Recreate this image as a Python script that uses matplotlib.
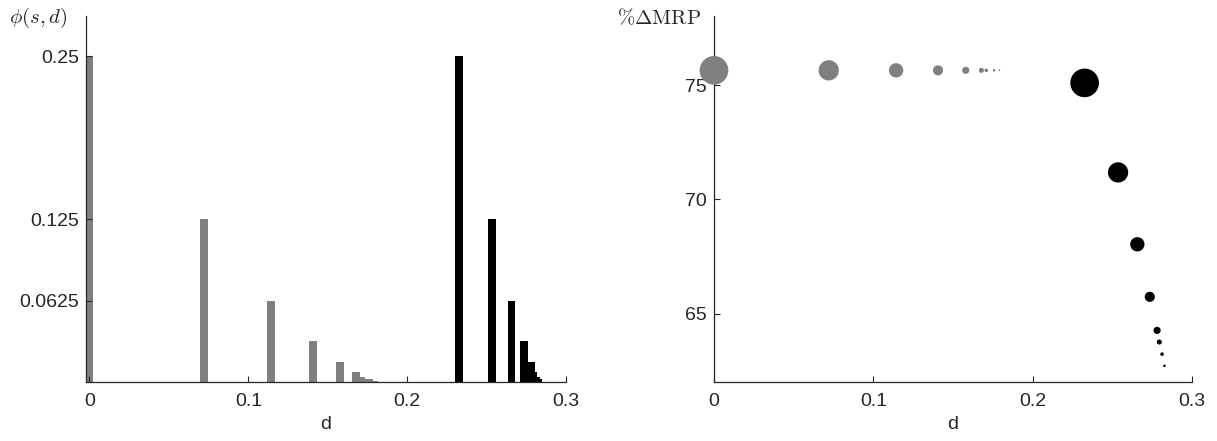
"""
Two-panel figure: distribution phi(s, d) over d (bars) and %dMRP vs d (scatter,
marker area proportional to phi). Grey = first strategy, black = second.
"""

import matplotlib
matplotlib.use("Agg")
import matplotlib.pyplot as plt

# values
gray_d = [0.0, 0.0720, 0.1143, 0.1406, 0.1580, 0.1678, 0.1709, 0.1758, 0.1791]
gray_phi = [0.25, 0.125, 0.0625, 0.03125, 0.015625, 0.0078, 0.0039, 0.00195, 0.00098]
gray_mrp = [75.65, 75.65, 75.65, 75.65, 75.65, 75.65, 75.65, 75.65, 75.65]

black_d = [0.2326, 0.2536, 0.2657, 0.2735, 0.2781, 0.2795, 0.2812, 0.2827]
black_phi = [0.25, 0.125, 0.0625, 0.03125, 0.015625, 0.0078, 0.0039, 0.00195]
black_mrp = [75.10, 71.18, 68.03, 65.73, 64.26, 63.75, 63.22, 62.71]

x_ticks = [0, 0.1, 0.2, 0.3]
x_tick_labels = ["0", "0.1", "0.2", "0.3"]
phi_ticks = [0.0625, 0.125, 0.25]
phi_tick_labels = ["0.0625", "0.125", "0.25"]
mrp_ticks = [65, 70, 75]

GRAY = "#808080"
AXIS = "#262626"

plt.rcParams["font.family"] = ["Liberation Sans", "DejaVu Sans"]
plt.rcParams["mathtext.fontset"] = "cm"

W, H = 1217, 441
fig = plt.figure(figsize=(W / 100, H / 100), dpi=100)

ax1 = fig.add_axes([86 / W, 1 - 382 / H, (566 - 86) / W, (382 - 16) / H])
ax2 = fig.add_axes([714 / W, 1 - 382 / H, (1192 - 714) / W, (382 - 16) / H])


def style(ax):
    for side in ("top", "right"):
        ax.spines[side].set_visible(False)
    for side in ("left", "bottom"):
        ax.spines[side].set_color(AXIS)
        ax.spines[side].set_linewidth(0.9)
    ax.tick_params(direction="in", length=4, width=0.8, colors=AXIS,
                   labelsize=14, pad=5)
    ax.tick_params(axis="x", pad=8)
    ax.set_xticks(x_ticks)
    ax.set_xticklabels(x_tick_labels)
    ax.set_xlabel("d", fontsize=14, color=AXIS, labelpad=4)


# left: bars
ax1.bar(gray_d, gray_phi, width=0.005, color=GRAY, edgecolor="none")
ax1.bar(black_d, black_phi, width=0.005, color="black", edgecolor="none")
ax1.set_xlim(-0.0022, 0.3)
ax1.set_ylim(0, 0.2807)
ax1.set_yticks(phi_ticks)
ax1.set_yticklabels(phi_tick_labels)
style(ax1)

# right: scatter, marker area ~ phi
size_scale = 1700
ax2.scatter(gray_d, gray_mrp, s=[p * size_scale for p in gray_phi],
            color=GRAY, edgecolors="none", clip_on=False, zorder=3)
ax2.scatter(black_d, black_mrp, s=[p * size_scale for p in black_phi],
            color="black", edgecolors="none", clip_on=False, zorder=3)
ax2.set_xlim(0, 0.3)
ax2.set_ylim(62.0, 78.03)
ax2.set_yticks(mrp_ticks)
style(ax2)

fig.text(67 / W, 1 - 18 / H, r"$\phi(s,d)$", ha="right", va="center",
         fontsize=15, color=AXIS)
fig.text(701 / W, 1 - 18 / H, r"$\%\Delta\mathrm{MRP}$", ha="right", va="center",
         fontsize=15, color=AXIS)

fig.savefig("out.png", dpi=100)
